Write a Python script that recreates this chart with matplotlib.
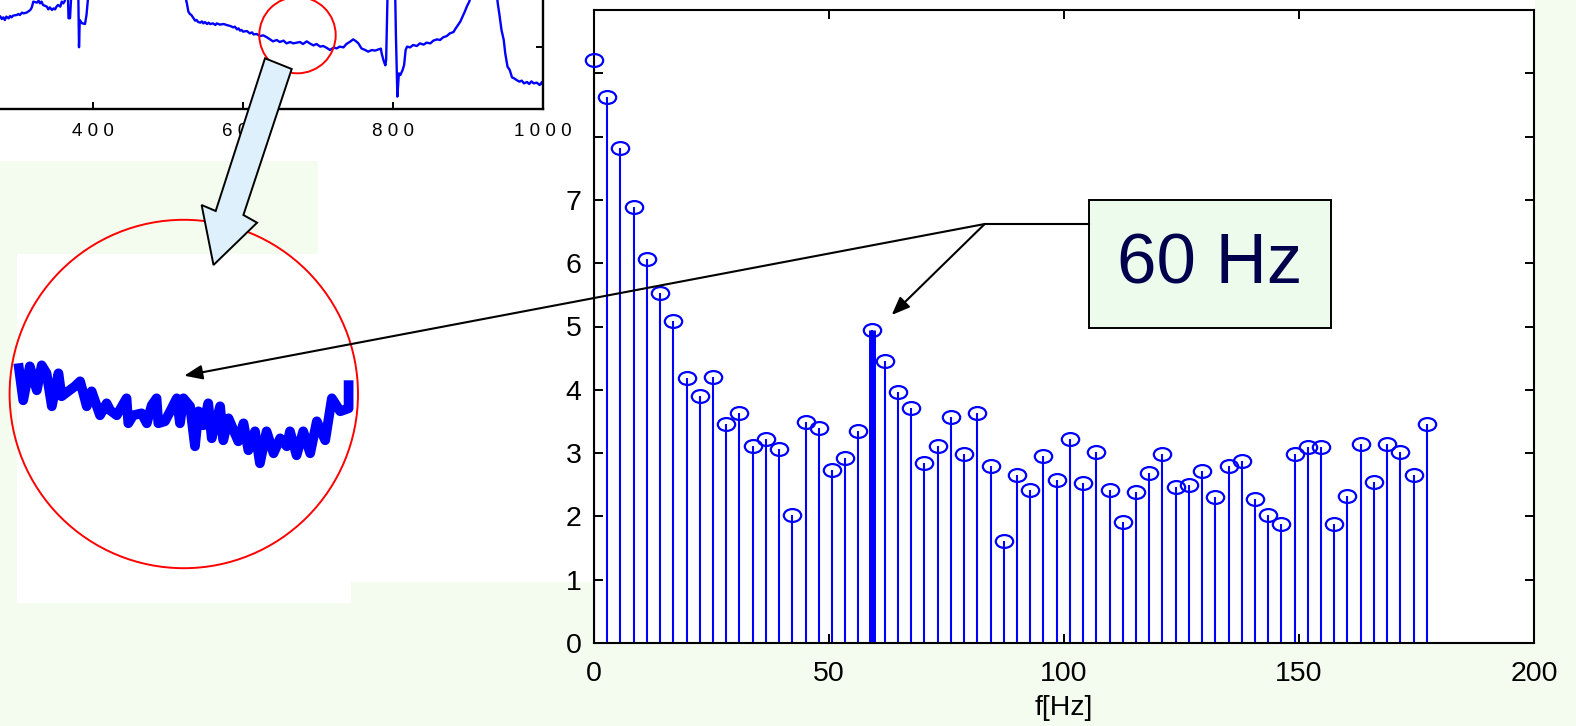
import numpy as np
import matplotlib
matplotlib.use('Agg')
from matplotlib import pyplot as plt
from matplotlib import patches
from matplotlib.path import Path

plt.rcParams['font.family'] = ['Liberation Sans', 'DejaVu Sans']

# magnitude spectrum, 128 pt fft at 360 Hz -> first 64 bins
fs = 360.
nfft = 128
mag = [9.21, 8.63, 7.82, 6.88, 6.06, 5.53, 5.09, 4.18, 3.90, 4.21,
       3.46, 3.63, 3.12, 3.22, 3.07, 2.02, 3.49, 3.40, 2.74, 2.93,
       3.35, 4.95, 4.45, 3.96, 3.71, 2.85, 3.12, 3.57, 2.99, 3.63,
       2.80, 1.61, 2.66, 2.41, 2.96, 2.57, 3.22, 2.52, 3.01, 2.41,
       1.91, 2.38, 2.69, 2.99, 2.46, 2.49, 2.71, 2.30, 2.80, 2.88,
       2.27, 2.02, 1.88, 2.99, 3.10, 3.10, 1.88, 2.33, 3.15, 2.55,
       3.15, 3.02, 2.66, 3.46]
hum_bin = 21
x_ticks = [0, 50, 100, 150, 200]
y_ticks = [0, 1, 2, 3, 4, 5, 6, 7, 8, 9]
y_ticklabels = ['0', '1', '2', '3', '4', '5', '6', '7', '', '']

# ecg record (samples, mV)
ecg_n = [276, 278, 280, 282, 284, 287, 289, 291, 293, 298,
         300, 302, 305, 307, 311, 316, 318, 320, 325, 327,
         329, 331, 333, 338, 340, 342, 345, 347, 349, 351,
         353, 356, 358, 360, 362, 364, 366, 367, 369, 371,
         376, 380, 381, 382, 385, 389, 391, 394, 420, 450,
         480, 510, 523, 525, 527, 529, 531, 534, 536, 538,
         540, 543, 545, 547, 549, 552, 554, 556, 560, 563,
         565, 569, 574, 578, 583, 587, 589, 592, 594, 596,
         598, 600, 605, 609, 612, 614, 618, 623, 627, 632,
         636, 640, 645, 649, 654, 658, 663, 667, 672, 676,
         680, 685, 689, 694, 698, 703, 707, 712, 716, 721,
         725, 729, 734, 738, 743, 747, 751, 754, 758, 763,
         767, 772, 776, 781, 784, 785, 788, 790, 791, 793,
         798, 803, 804, 806, 808, 810, 813, 815, 817, 819,
         823, 827, 832, 836, 841, 845, 850, 854, 859, 863,
         867, 872, 876, 881, 883, 887, 890, 893, 896, 899,
         902, 904, 915, 925, 935, 939, 940, 942, 945, 948,
         950, 953, 956, 959, 962, 965, 969, 972, 975, 979,
         982, 985, 988, 992, 996, 999, 1000]
ecg_mv = [0.239, 0.220, 0.233, 0.212, 0.239, 0.225, 0.244, 0.233, 0.247, 0.252,
          0.260, 0.252, 0.271, 0.265, 0.271, 0.292, 0.313, 0.359, 0.351, 0.367,
          0.345, 0.359, 0.332, 0.319, 0.297, 0.313, 0.292, 0.305, 0.297, 0.319,
          0.332, 0.319, 0.359, 0.345, 0.364, 0.45, 0.45, 0.226, 0.226, 0.45,
          0.50, 0.45, -0.006, 0.212, 0.186, 0.180, 0.252, 0.45, 0.60, 0.65,
          0.62, 0.50, 0.40, 0.345, 0.279, 0.260, 0.252, 0.225, 0.207, 0.212,
          0.196, 0.191, 0.201, 0.185, 0.196, 0.180, 0.191, 0.180, 0.185, 0.172,
          0.185, 0.175, 0.180, 0.172, 0.164, 0.153, 0.159, 0.137, 0.145, 0.127,
          0.132, 0.119, 0.124, 0.105, 0.113, 0.097, 0.100, 0.084, 0.089, 0.073,
          0.057, 0.041, 0.052, 0.036, 0.047, 0.025, 0.036, 0.025, 0.031, 0.036,
          0.020, 0.041, 0.025, 0.009, 0.020, -0.001, 0.004, -0.012, -0.028, -0.009,
          -0.015, -0.001, -0.007, 0.020, 0.039, 0.057, 0.041, 0.025, -0.015, -0.028,
          -0.041, -0.028, -0.033, -0.023, -0.017, -0.055, -0.121, -0.151, -0.108, 0.45,
          1.2, 0.45, 0.105, -0.401, -0.215, -0.228, -0.188, -0.148, -0.028, -0.001,
          -0.007, 0.012, 0.004, 0.025, 0.015, 0.031, 0.025, 0.047, 0.057, 0.052,
          0.073, 0.084, 0.105, 0.116, 0.137, 0.172, 0.199, 0.239, 0.279, 0.324,
          0.359, 0.40, 0.55, 0.58, 0.50, 0.40, 0.345, 0.265, 0.132, 0.052,
          -0.055, -0.161, -0.188, -0.247, -0.255, -0.268, -0.281, -0.273, -0.295, -0.284,
          -0.300, -0.279, -0.295, -0.289, -0.308, -0.284, -0.300]
ecg_ticks = [400, 600, 800, 1000]
ecg_ticklabels = ['4 0 0', '6 0 0', '8 0 0', '1 0 0 0']

# magnified piece of the baseline (samples ~625-720), noise exaggerated
zoom_t = [625.0, 626.4, 628.3, 630.3, 631.7, 633.1, 634.6, 636.5, 637.4, 639.3,
          641.2, 642.7, 644.6, 646.0, 648.4, 650.3, 651.3, 653.2, 656.0, 656.5,
          657.9, 660.3, 661.8, 663.2, 664.6, 665.1, 667.0, 668.5, 670.4, 671.3,
          672.3, 674.2, 675.6, 676.6, 678.0, 679.4, 680.4, 682.8, 683.7, 685.2,
          688.0, 689.5, 690.9, 692.8, 694.2, 696.1, 698.1, 700.0, 701.9, 702.8,
          704.7, 706.6, 708.6, 710.5, 712.9, 714.8, 717.2, 719.6, 719.6]
zoom_v = [0.050, 0.013, 0.047, 0.023, 0.048, 0.040, 0.007, 0.040, 0.017, 0.022,
          0.027, 0.032, 0.007, 0.022, -0.002, 0.010, 0.003, -0.002, 0.015, -0.010,
          -0.002, 0.000, -0.010, 0.008, 0.015, -0.010, -0.008, 0.002, 0.015, -0.010,
          0.015, 0.007, -0.033, 0.002, -0.012, 0.010, -0.025, 0.007, -0.027, -0.005,
          -0.028, -0.010, -0.037, -0.018, -0.050, -0.018, -0.040, -0.025, -0.033, -0.018,
          -0.042, -0.018, -0.040, -0.008, -0.027, 0.015, 0.002, 0.005, 0.033]

BG = '#f4fcf0'
W, H = 1576., 726.


def px_box(l, t, r, b):
    # pixel box (top-left origin) -> figure fraction rect
    return [l / W, 1 - b / H, (r - l) / W, (b - t) / H]


def px_rect(fig, l, t, r, b, color):
    x, y, w, h = px_box(l, t, r, b)
    rc = patches.Rectangle((x, y), w, h, transform=fig.transFigure,
                           facecolor=color, edgecolor='none', zorder=-1)
    fig.add_artist(rc)


fig = plt.figure(figsize=(W / 100, H / 100), dpi=100, facecolor=BG)

# white backgrounds of the pasted panels
px_rect(fig, 0, 0, 1535, 161, 'white')
px_rect(fig, 318, 0, 1535, 582, 'white')
px_rect(fig, 17, 254, 351, 603, 'white')

# ---- spectrum ----
ax = fig.add_axes(px_box(594, 10, 1534, 643))
ax.set_facecolor('white')
freq = np.arange(len(mag)) * fs / nfft
ax.vlines(freq, 0, mag, colors='b', lw=1.5, zorder=2)
ax.vlines(freq[hum_bin], 0, mag[hum_bin], colors='b', lw=5, zorder=2)
circ = Path.unit_circle()
ell = Path(circ.vertices * np.array([1.35, 1.0]), circ.codes)
ax.plot(freq, mag, ls='none', marker=ell, ms=12.5, mfc='none', mec='b',
        mew=1.6, clip_on=False, zorder=3)
ax.set_xlim(0, 200)
ax.set_ylim(0, 10)
ax.set_xticks(x_ticks)
ax.set_yticks(y_ticks)
ax.set_yticklabels(y_ticklabels)
ax.tick_params(direction='in', length=6.8, width=1.4, top=True, right=True,
               labelsize=20.5)
ax.tick_params(axis='x', pad=13)
ax.tick_params(axis='y', pad=9)
for s in ax.spines.values():
    s.set_linewidth(1.5)
ax.set_xlabel('f[Hz]', fontsize=20.5, labelpad=6)

# ---- ecg strip (cropped) ----
ax2 = fig.add_axes(px_box(-206.4, -100, 542.7, 109))
ax2.set_facecolor('none')
ax2.plot(ecg_n, ecg_mv, color='b', lw=1.7)
ax2.set_xlim(0, 1000)
ax2.set_ylim(-0.5, 1.172)
ax2.set_xticks(ecg_ticks)
ax2.set_xticklabels(ecg_ticklabels)
ax2.set_yticks([0, 0.5, 1.0])
ax2.tick_params(direction='in', length=5, width=1.4, labelsize=13.5, pad=10,
                left=False, labelleft=False, right=True)
ax2.spines['top'].set_visible(False)
ax2.spines['left'].set_visible(False)
ax2.spines['bottom'].set_linewidth(1.7)
ax2.spines['right'].set_linewidth(1.7)

# ---- magnified baseline ----
ax3 = fig.add_axes(px_box(18.3, 363.3, 350, 463.3))
ax3.set_facecolor('none')
ax3.plot(zoom_t, zoom_v, color='b', lw=7, solid_joinstyle='round',
         solid_capstyle='butt', clip_on=False)
ax3.set_xlim(625, 720)
ax3.set_ylim(-0.05, 0.05)
ax3.axis('off')

# ---- callouts on top ----
ov = fig.add_axes([0, 0, 1, 1], zorder=5)
ov.set_facecolor('none')
ov.set_xlim(0, W)
ov.set_ylim(H, 0)
ov.axis('off')

ov.add_patch(patches.Circle((297.5, 35.1), 38.2, fill=False, ec='red', lw=1.4))
ov.add_patch(patches.Circle((183.8, 394), 174.2, fill=False, ec='red', lw=1.4))

fat = [(265, 58.3), (291.7, 69), (243.4, 215), (257.1, 222.7),
       (213.5, 265), (201.6, 205), (215.7, 211)]
ov.add_patch(patches.Polygon(fat, closed=True, fc='#ddf0fb', ec='black', lw=1.4))

knee = (984.7, 224)
ov.plot([knee[0], 1089], [knee[1], knee[1]], color='black', lw=1.5)
arrow_kw = dict(arrowstyle='-|>,head_length=0.55,head_width=0.22', color='black',
                lw=1.5, mutation_scale=20, shrinkA=0, shrinkB=0)
ov.annotate('', xy=(891.7, 315), xytext=knee, arrowprops=arrow_kw)
ov.annotate('', xy=(184.2, 375.7), xytext=knee, arrowprops=arrow_kw)

ov.add_patch(patches.Rectangle((1089, 200), 242, 128, fc='#edfbec', ec='black', lw=1.4))
ov.text(1210, 266, '60 Hz', fontsize=51, color='#00004d', ha='center', va='center')

plt.savefig('out.png', dpi=100, facecolor=BG)
